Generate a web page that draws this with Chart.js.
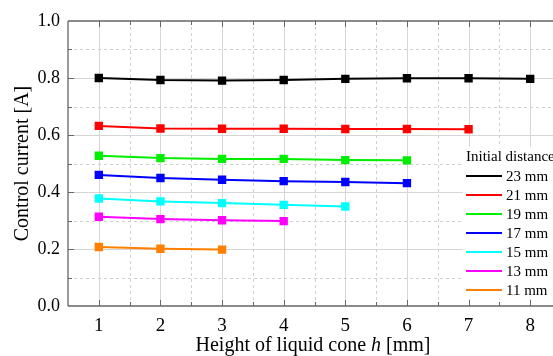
<!DOCTYPE html>
<html lang="en">
<head>
<meta charset="UTF-8">
<title>Control current</title>
<script src="https://cdn.jsdelivr.net/npm/chart.js"></script>
<style>
  html, body { margin: 0; padding: 0; background: #fff; overflow: hidden; }
  #wrap { width: 575px; height: 356px; }
</style>
</head>
<body>
<div id="wrap"><canvas id="c" width="575" height="356"></canvas></div>
<script>
// data
const heights = [1, 2, 3, 4, 5, 6, 7, 8];
const seriesLabels = ['23 mm', '21 mm', '19 mm', '17 mm', '15 mm', '13 mm', '11 mm'];
const seriesColors = ['#000000', '#ff0000', '#00ee00', '#0000ff', '#00ffff', '#ff00ff', '#ff8000'];
const d23 = [0.800, 0.793, 0.791, 0.793, 0.797, 0.799, 0.799, 0.797];
const d21 = [0.632, 0.623, 0.622, 0.622, 0.621, 0.621, 0.620];
const d19 = [0.527, 0.519, 0.516, 0.516, 0.512, 0.511];
const d17 = [0.460, 0.449, 0.443, 0.438, 0.435, 0.431];
const d15 = [0.377, 0.367, 0.361, 0.355, 0.349];
const d13 = [0.313, 0.305, 0.301, 0.298];
const d11 = [0.207, 0.201, 0.198];
const yTicks = [0, 0.2, 0.4, 0.6, 0.8, 1.0];

const allSeries = [d23, d21, d19, d17, d15, d13, d11];

let datasets = allSeries.map((vals, i) => ({
    label: seriesLabels[i],
    data: vals.map((v, j) => ({ x: heights[j], y: v })),
    borderColor: seriesColors[i],
    backgroundColor: seriesColors[i],
    borderWidth: 2,
    pointStyle: 'rect',
    pointRadius: 4.5,
    pointHoverRadius: 4.5,
    tension: 0
}));

const serif = '"Liberation Serif", "Times New Roman", serif';

// grid, inner ticks, legend box and x title drawn by hand
let frame = {
    id: 'frame',
    beforeDatasetsDraw(chart) {
        const ctx = chart.ctx, a = chart.chartArea;
        const xs = chart.scales.x, ys = chart.scales.y;
        ctx.save();
        ctx.lineWidth = 1;
        // vertical grid
        for (let v = 1; v <= 8.5; v += 0.5) {
            const px = Math.round(xs.getPixelForValue(v)) + 0.5;
            if (px > a.right) continue;
            ctx.strokeStyle = Number.isInteger(v) ? '#d6d6d6' : '#d0d0d0';
            ctx.setLineDash(Number.isInteger(v) ? [] : [3, 3]);
            ctx.beginPath(); ctx.moveTo(px, a.top); ctx.lineTo(px, a.bottom); ctx.stroke();
        }
        // horizontal grid
        for (let k = 1; k < 10; k++) {
            const v = k / 10;
            const py = Math.round(ys.getPixelForValue(v)) + 0.5;
            const major = k % 2 === 0;
            ctx.strokeStyle = major ? '#d6d6d6' : '#d0d0d0';
            ctx.setLineDash(major ? [] : [3, 3]);
            ctx.beginPath(); ctx.moveTo(a.left, py); ctx.lineTo(a.right, py); ctx.stroke();
        }
        ctx.setLineDash([]);
        // frame lines
        ctx.strokeStyle = '#666';
        ctx.lineWidth = 1.3;
        ctx.beginPath();
        ctx.moveTo(a.left, a.top); ctx.lineTo(a.right, a.top);
        ctx.moveTo(a.left, a.top); ctx.lineTo(a.left, a.bottom);
        ctx.moveTo(a.left, a.bottom); ctx.lineTo(a.right, a.bottom);
        ctx.stroke();
        // inner ticks
        ctx.lineWidth = 1;
        ctx.beginPath();
        for (let v = 1; v <= 8.5; v += 0.5) {
            const px = Math.round(xs.getPixelForValue(v)) + 0.5;
            if (px > a.right) continue;
            const len = Number.isInteger(v) ? 6 : 4;
            ctx.moveTo(px, a.bottom); ctx.lineTo(px, a.bottom - len);
            ctx.moveTo(px, a.top); ctx.lineTo(px, a.top + len);
        }
        for (let k = 1; k < 10; k++) {
            const py = Math.round(ys.getPixelForValue(k / 10)) + 0.5;
            const len = k % 2 === 0 ? 6 : 4;
            ctx.moveTo(a.left, py); ctx.lineTo(a.left + len, py);
        }
        ctx.stroke();
        ctx.restore();
    },
    afterDatasetsDraw(chart) {
        const ctx = chart.ctx;
        ctx.save();
        // legend
        ctx.fillStyle = '#fff';
        ctx.fillRect(463, 147, 110, 152);
        ctx.fillStyle = '#000';
        ctx.font = '15px ' + serif;
        ctx.textBaseline = 'middle';
        ctx.textAlign = 'left';
        ctx.fillText('Initial distance', 466, 157);
        chart.data.datasets.forEach((ds, i) => {
            const y = 176 + i * 19;
            ctx.strokeStyle = ds.borderColor;
            ctx.lineWidth = 2;
            ctx.beginPath(); ctx.moveTo(466, y); ctx.lineTo(502, y); ctx.stroke();
            ctx.fillStyle = '#000';
            ctx.fillText(ds.label, 506, y + 1);
        });
        // x title with italic h
        ctx.font = '20px ' + serif;
        ctx.textBaseline = 'alphabetic';
        const p1 = 'Height of liquid cone ', p2 = 'h', p3 = ' [mm]';
        const w1 = ctx.measureText(p1).width, w3 = ctx.measureText(p3).width;
        ctx.font = 'italic 20px ' + serif;
        const w2 = ctx.measureText(p2).width;
        let x0 = 313 - (w1 + w2 + w3) / 2;
        const yb = 351;
        ctx.font = '20px ' + serif;
        ctx.fillText(p1, x0, yb);
        ctx.font = 'italic 20px ' + serif;
        ctx.fillText(p2, x0 + w1, yb);
        ctx.font = '20px ' + serif;
        ctx.fillText(p3, x0 + w1 + w2, yb);
        ctx.restore();
    }
};

new Chart(document.getElementById('c').getContext('2d'), {
    type: 'line',
    data: { datasets: datasets },
    options: {
        responsive: false,
        animation: false,
        layout: { padding: { top: 21, right: 14, left: 0, bottom: 0 } },
        plugins: { legend: { display: false }, tooltip: { enabled: false } },
        scales: {
            x: {
                type: 'linear',
                min: 0.5,
                max: 8.5,
                grid: { display: false, drawTicks: false },
                border: { display: false },
                afterBuildTicks: s => { s.ticks = heights.map(v => ({ value: v })); },
                afterFit: s => { s.height = 50; },
                ticks: { color: '#000', font: { family: serif, size: 19 }, padding: 9, maxRotation: 0 }
            },
            y: {
                min: 0,
                max: 1,
                grid: { display: false, drawTicks: false },
                border: { display: false },
                afterBuildTicks: s => { s.ticks = yTicks.map(v => ({ value: v })); },
                afterFit: s => { s.width = 68; },
                ticks: { color: '#000', font: { family: serif, size: 18 }, padding: 8,
                    callback: v => v.toFixed(1) },
                title: { display: true, text: 'Control current [A]', color: '#000',
                    font: { family: serif, size: 20 }, padding: { top: 11, bottom: 0 } }
            }
        }
    },
    plugins: [frame]
});
</script>
</body>
</html>
